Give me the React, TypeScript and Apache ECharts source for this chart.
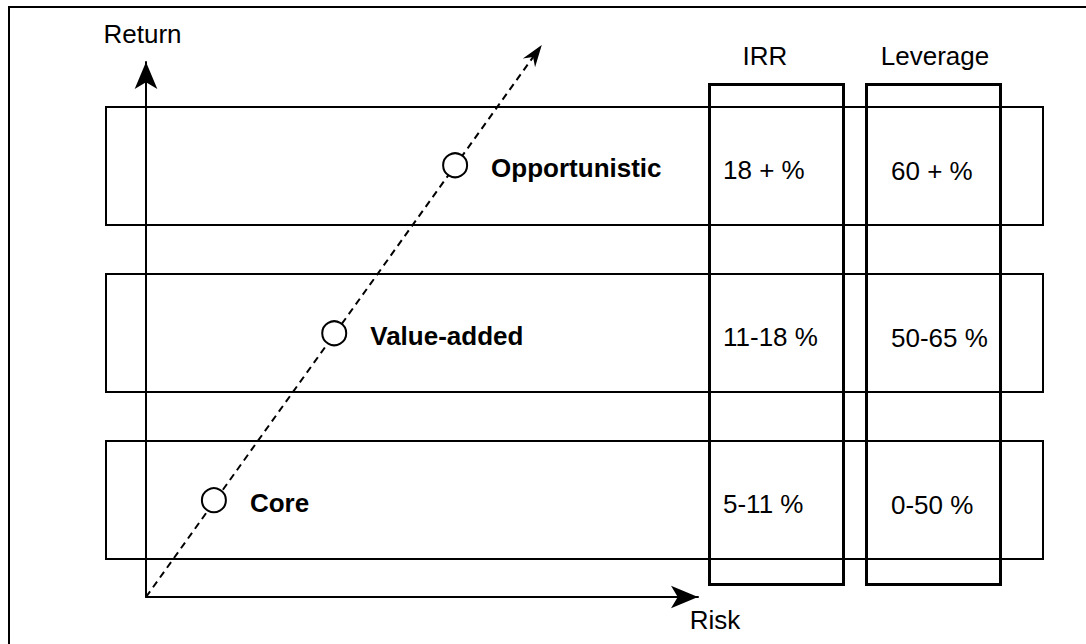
import React, { useEffect, useRef } from 'react';
import * as echarts from 'echarts';

// ---- data ----
const strategies = ['Core', 'Value-added', 'Opportunistic'];
const irrValues = ['5-11 %', '11-18 %', '18 + %'];
const leverageValues = ['0-50 %', '50-65 %', '60 + %'];
const riskValues = [1.23, 3.41, 5.6];
const returnValues = [1.81, 4.93, 8.07];
const trendLine = [0, 0, 7.17, 10.32]; // from (risk, return) to (risk, return)
const columnNames = ['IRR', 'Leverage'];
const axisNames = { x: 'Risk', y: 'Return' };

// ---- layout / style ----
const FONT = '"Liberation Sans", Arial, Helvetica, sans-serif';
const FS = 26;
const COL_BOX_LEFT = [603, 760];
const COL_BOX_W = 134;
const COL_HEADER_X = [659, 829];
const COL_VALUE_X = [617, 785];
const BAND_RATIO = 0.71;

export default function App() {
  const ref = useRef<HTMLDivElement>(null);

  useEffect(() => {
    if (!ref.current) return;
    const chart = echarts.init(ref.current, undefined, { renderer: 'svg' });

    const hiddenAxis = { show: false };
    const axisLineStyle = {
      show: true,
      onZero: false,
      symbol: ['none', 'arrow'],
      symbolSize: [17, 27],
      lineStyle: { color: '#000', width: 2 },
    };

    const option: any = {
      animation: false,
      backgroundColor: '#fff',
      textStyle: { fontFamily: FONT },
      grid: [
        { left: 146, right: 388, top: 62, bottom: 47, outerBoundsMode: 'none', containLabel: false },
        { left: 106, right: 43, top: 84, bottom: 60, outerBoundsMode: 'none', containLabel: false },
      ],
      xAxis: [
        {
          type: 'value',
          gridIndex: 0,
          min: 0,
          max: 10,
          name: axisNames.x,
          nameLocation: 'end',
          nameGap: 17,
          nameTextStyle: {
            fontFamily: FONT,
            fontSize: FS,
            color: '#000',
            align: 'center',
            verticalAlign: 'top',
            lineHeight: 46,
          },
          axisLine: axisLineStyle,
          axisTick: { show: false },
          axisLabel: { show: false },
          splitLine: { show: false },
        },
        { type: 'value', gridIndex: 1, min: 0, max: 1, ...hiddenAxis },
      ],
      yAxis: [
        {
          type: 'value',
          gridIndex: 0,
          min: 0,
          max: 10,
          name: axisNames.y,
          nameLocation: 'end',
          nameGap: 28,
          nameTextStyle: {
            fontFamily: FONT,
            fontSize: FS,
            color: '#000',
            align: 'center',
            verticalAlign: 'middle',
            padding: [0, 7, 0, 0],
          },
          axisLine: axisLineStyle,
          axisTick: { show: false },
          axisLabel: { show: false },
          splitLine: { show: false },
        },
        { type: 'category', gridIndex: 1, data: strategies, ...hiddenAxis },
      ],
      graphic: [
        {
          type: 'rect',
          shape: { x: 9, y: 7, width: 1200, height: 800 },
          style: { fill: 'none', stroke: '#000', lineWidth: 2 },
          silent: true,
        },
      ],
      series: [
        {
          type: 'custom',
          name: 'bands',
          xAxisIndex: 1,
          yAxisIndex: 1,
          clip: false,
          data: strategies.map((s) => [0, s]),
          renderItem: (params: any, api: any) => {
            const cs = params.coordSys;
            const i = params.dataIndex;
            const c = api.coord([0, api.value(1)]);
            const h = api.size([0, 1])[1] * BAND_RATIO;
            const textStyle = {
              fontFamily: FONT,
              fontSize: FS,
              fill: '#000',
              align: 'left',
              verticalAlign: 'middle',
            };
            return {
              type: 'group',
              children: [
                {
                  type: 'rect',
                  shape: { x: cs.x, y: Math.round(c[1] - h / 2) - 1, width: cs.width, height: Math.round(h) },
                  style: { fill: 'none', stroke: '#000', lineWidth: 2 },
                },
                {
                  type: 'text',
                  style: { ...textStyle, text: irrValues[i], x: cs.x + COL_VALUE_X[0], y: c[1] + 3 },
                },
                {
                  type: 'text',
                  style: { ...textStyle, text: leverageValues[i], x: cs.x + COL_VALUE_X[1], y: c[1] + 4 },
                },
              ],
            };
          },
        },
        {
          type: 'custom',
          name: 'columns',
          xAxisIndex: 1,
          yAxisIndex: 1,
          clip: false,
          data: columnNames.map(() => [0, 0]),
          renderItem: (params: any, api: any) => {
            const cs = params.coordSys;
            const i = params.dataIndex;
            return {
              type: 'group',
              children: [
                {
                  type: 'rect',
                  shape: { x: cs.x + COL_BOX_LEFT[i] + 0.5, y: cs.y + 0.5, width: COL_BOX_W, height: cs.height },
                  style: { fill: 'none', stroke: '#000', lineWidth: 3 },
                },
                {
                  type: 'text',
                  style: {
                    text: columnNames[i],
                    x: cs.x + COL_HEADER_X[i],
                    y: cs.y - 28,
                    fontFamily: FONT,
                    fontSize: FS,
                    fill: '#000',
                    align: 'center',
                    verticalAlign: 'middle',
                  },
                },
              ],
            };
          },
        },
        {
          type: 'custom',
          name: 'trend',
          xAxisIndex: 0,
          yAxisIndex: 0,
          clip: false,
          data: [trendLine],
          renderItem: (params: any, api: any) => {
            const p0 = api.coord([api.value(0), api.value(1)]);
            const p1 = api.coord([api.value(2), api.value(3)]);
            const dx = p1[0] - p0[0];
            const dy = p1[1] - p0[1];
            const len = Math.sqrt(dx * dx + dy * dy);
            const ux = dx / len;
            const uy = dy / len;
            const nx = -uy;
            const ny = ux;
            const L = 22;
            const W = 7.5;
            const N = 15;
            const back = [p1[0] - ux * L, p1[1] - uy * L];
            const notch = [p1[0] - ux * N, p1[1] - uy * N];
            return {
              type: 'group',
              children: [
                {
                  type: 'line',
                  shape: { x1: p0[0], y1: p0[1], x2: notch[0], y2: notch[1] },
                  style: { stroke: '#000', lineWidth: 2, lineDash: [7, 5] },
                },
                {
                  type: 'polygon',
                  shape: {
                    points: [
                      [p1[0], p1[1]],
                      [back[0] + nx * W, back[1] + ny * W],
                      [notch[0], notch[1]],
                      [back[0] - nx * W, back[1] - ny * W],
                    ],
                  },
                  style: { fill: '#000', stroke: 'none' },
                },
              ],
            };
          },
          z: 3,
        },
        {
          type: 'scatter',
          name: 'strategies',
          xAxisIndex: 0,
          yAxisIndex: 0,
          clip: false,
          symbol: 'circle',
          symbolSize: 24,
          itemStyle: { color: '#fff', borderColor: '#000', borderWidth: 2, opacity: 1 },
          label: {
            show: true,
            position: 'right',
            distance: 23,
            formatter: '{b}',
            fontFamily: FONT,
            fontSize: FS,
            fontWeight: 'bold',
            color: '#000',
            offset: [0, 3],
          },
          data: strategies.map((s, i) => ({ name: s, value: [riskValues[i], returnValues[i]] })),
          z: 5,
        },
      ],
    };

    chart.setOption(option);
    return () => chart.dispose();
  }, []);

  return (
    <div
      ref={ref}
      style={{ position: 'absolute', left: 0, top: 0, width: 1086, height: 644, background: '#fff' }}
    />
  );
}
